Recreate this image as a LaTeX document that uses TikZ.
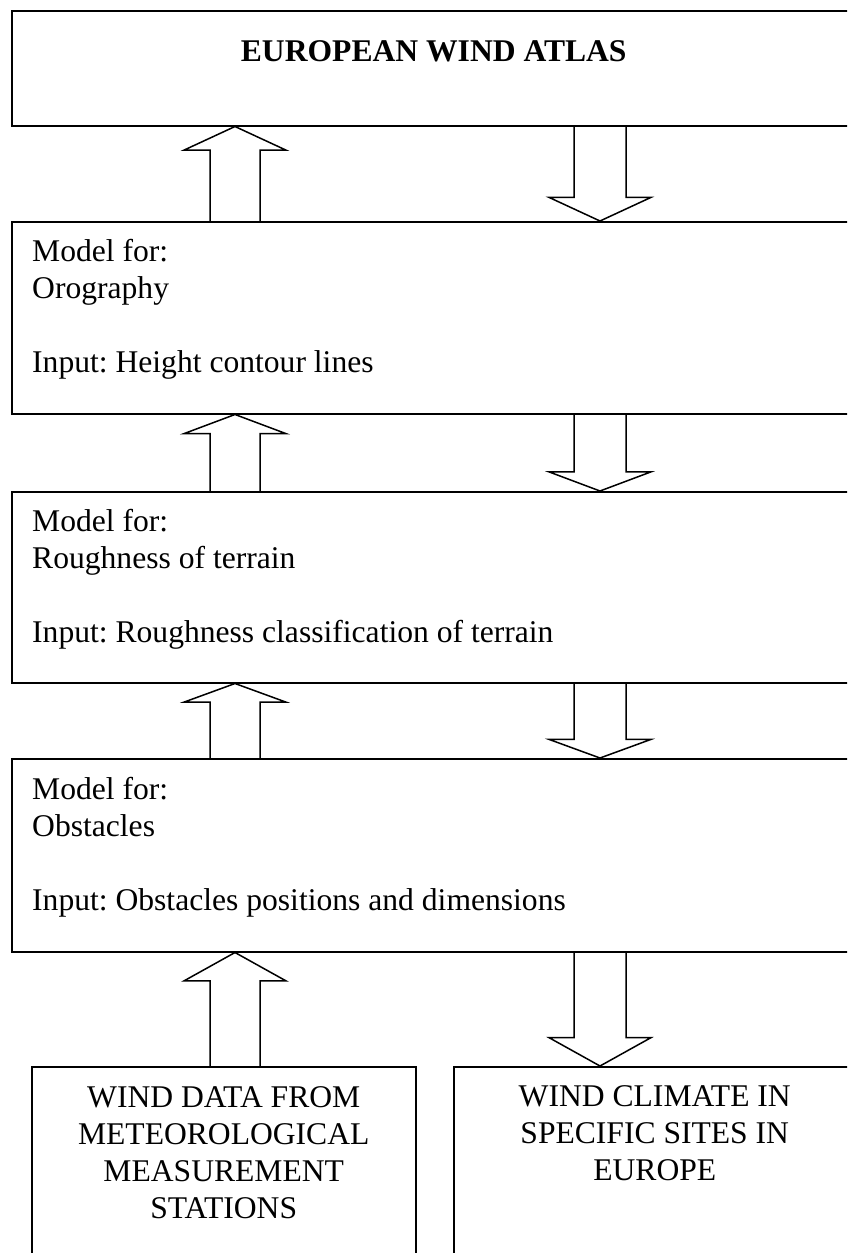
\documentclass[tikz,border=0pt]{standalone}
\usepackage{fontspec}
\setmainfont{Liberation Serif}
\usetikzlibrary{calc}

\newcommand{\diagfont}{\fontsize{31.6}{36.7}\selectfont\frenchspacing}

\tikzset{
  panel/.style={draw, rectangle, line width=1.5pt, anchor=north west, inner sep=0pt},
  paneltext/.style={anchor=base west, align=left, inner sep=0pt},
  boxtext/.style={anchor=base, align=center, inner sep=0pt},
  blockarr/.style={line width=1.5pt, line join=miter},
}

% hollow block arrow from node #1 (below) up to node #2, centred at x=#3
\newcommand{\arrowup}[3]{%
  \draw[blockarr] let \p1=(#1.north), \p2=(#2.south), \n1={0.25*(\y2-\y1)} in
    ({#3pt-25pt},\y1) -- ({#3pt-25pt},{\y2-\n1}) -- ({#3pt-51pt},{\y2-\n1}) -- ({#3pt},\y2)
    -- ({#3pt+51pt},{\y2-\n1}) -- ({#3pt+25pt},{\y2-\n1}) -- ({#3pt+25pt},\y1);
}
% hollow block arrow from node #1 (above) down to node #2, centred at x=#3
\newcommand{\arrowdown}[3]{%
  \draw[blockarr] let \p1=(#1.south), \p2=(#2.north), \n1={0.25*(\y1-\y2)} in
    ({#3pt-26pt},\y1) -- ({#3pt-26pt},{\y2+\n1}) -- ({#3pt-51pt},{\y2+\n1}) -- ({#3pt},\y2)
    -- ({#3pt+51pt},{\y2+\n1}) -- ({#3pt+26pt},{\y2+\n1}) -- ({#3pt+26pt},\y1);
}

\begin{document}
\begin{tikzpicture}[x=1pt,y=-1pt,font=\diagfont]
  \useasboundingbox (0,0) rectangle (847,1253);
  \clip (0,0) rectangle (847,1253);

  % boxes
  \node[panel, minimum width=844pt, minimum height=115pt] (atlas) at (11,10) {};
  \node[panel, minimum width=844pt, minimum height=192pt] (orog) at (11,221) {};
  \node[panel, minimum width=844pt, minimum height=191pt] (rough) at (11,491) {};
  \node[panel, minimum width=844pt, minimum height=193pt] (obst) at (11,758) {};
  \node[panel, minimum width=384pt, minimum height=260pt] (stations) at (31,1066) {};
  \node[panel, minimum width=402pt, minimum height=260pt] (sites) at (453,1066) {};

  % texts (base = baseline of the last line)
  \node[boxtext, font=\diagfont\bfseries] (atlastxt) at ($(atlas.north)+(0,51)$) {EUROPEAN WIND ATLAS};
  \node[paneltext] (orogtxt) at ($(orog.north west)+(21,151)$)
    {Model for:\\Orography\\[36.7pt]Input: Height contour lines};
  \node[paneltext] (roughtxt) at ($(rough.north west)+(21,151)$)
    {Model for:\\Roughness of terrain\\[36.7pt]Input: Roughness classification of terrain};
  \node[paneltext] (obsttxt) at ($(obst.north west)+(21,152)$)
    {Model for:\\Obstacles\\[36.7pt]Input: Obstacles positions and dimensions};
  \node[boxtext] (stationstxt) at ($(stations.north)+(0,152)$)
    {WIND DATA FROM\\METEOROLOGICAL\\MEASUREMENT\\STATIONS};
  \node[boxtext] (sitestxt) at ($(sites.north)+(0,114)$)
    {WIND CLIMATE IN\\SPECIFIC SITES IN\\EUROPE};

  % arrows
  \arrowup{orog}{atlas}{235}
  \arrowdown{atlas}{orog}{600}
  \arrowup{rough}{orog}{235}
  \arrowdown{orog}{rough}{600}
  \arrowup{obst}{rough}{235}
  \arrowdown{rough}{obst}{600}
  \arrowup{stations}{obst}{235}
  \arrowdown{obst}{sites}{600}
\end{tikzpicture}
\end{document}
